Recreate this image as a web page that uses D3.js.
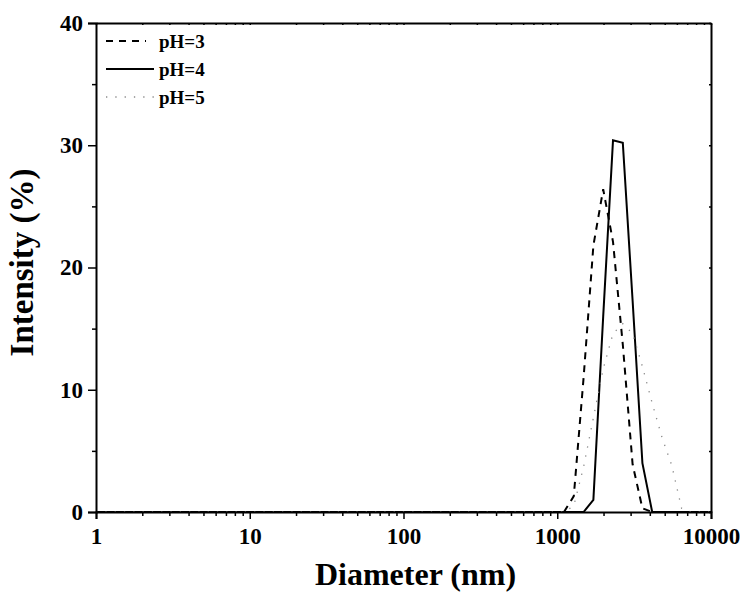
<!DOCTYPE html>
<html>
<head>
<meta charset="utf-8">
<script src="https://d3js.org/d3.v7.min.js"></script>
<style>
  body { margin: 0; background: #fff; }
  text { font-family: "Liberation Serif", "Times New Roman", serif; font-weight: bold; fill: #000; }
</style>
</head>
<body>
<svg id="chart" width="744" height="598"></svg>
<script>
// diameters (nm) of the size bins
const sizes = [1, 1106, 1281, 1484, 1718, 1990, 2305, 2669, 3091, 3580, 4145, 4801, 5560, 6439, 7456, 10000];
// intensity (%) for each pH
const pH3 = [0, 0, 1.3, 11.0, 21.8, 26.4, 22.1, 13.7, 3.9, 0.3, 0, 0, 0, 0, 0, 0];
const pH4 = [0, 0, 0, 0, 1.0, 16.0, 30.4, 30.2, 17.3, 4.0, 0, 0, 0, 0, 0, 0];
const pH5 = [0, 0, 0.5, 3.7, 7.7, 11.7, 14.6, 15.4, 14.6, 11.9, 8.9, 6.1, 3.8, 0.3, 0, 0];
const seriesNames = ['pH=3', 'pH=4', 'pH=5'];
const xTicks = [1, 10, 100, 1000, 10000];
const yTicks = [0, 10, 20, 30, 40];

const margin = {top: 23, right: 33, bottom: 86, left: 96};
const svg = d3.select('#chart');
const width = +svg.attr('width') - margin.left - margin.right;
const height = +svg.attr('height') - margin.top - margin.bottom;
const g = svg.append('g').attr('transform', `translate(${margin.left},${margin.top})`);

const x = d3.scaleLog().domain([1, 10000]).range([0, width]);
const y = d3.scaleLinear().domain([0, 40]).range([height, 0]);

const styles = [
  {stroke: '#000', width: 2, dash: '7,6'},
  {stroke: '#000', width: 2, dash: null},
  {stroke: '#8a8a8a', width: 1.3, dash: '1.3,8'}
];

const line = d3.line().x(d => x(d[0])).y(d => y(d[1]));
[pH3, pH4, pH5].forEach((vals, i) => {
  g.append('path')
    .datum(sizes.map((s, j) => [s, vals[j]]))
    .attr('d', line)
    .attr('fill', 'none')
    .attr('stroke', styles[i].stroke)
    .attr('stroke-width', styles[i].width)
    .attr('stroke-dasharray', styles[i].dash);
});

// minor ticks
const xMinor = [];
for (let d = 1; d < 10000; d *= 10) for (let k = 2; k <= 9; k++) xMinor.push(d * k);
const yMinor = [5, 15, 25, 35];

// bottom axis
const xAxis = g.append('g').attr('transform', `translate(0,${height})`)
  .call(d3.axisBottom(x).tickValues(xTicks).tickFormat(d3.format('d')).tickSize(7).tickPadding(9));
g.append('g').attr('transform', `translate(0,${height})`)
  .call(d3.axisBottom(x).tickValues(xMinor).tickFormat('').tickSize(4))
  .call(a => a.select('.domain').remove());
// left axis
const yAxis = g.append('g')
  .call(d3.axisLeft(y).tickValues(yTicks).tickSize(8).tickPadding(5));
g.append('g')
  .call(d3.axisLeft(y).tickValues(yMinor).tickFormat('').tickSize(4))
  .call(a => a.select('.domain').remove());
// top and right mirror ticks
g.append('g')
  .call(d3.axisBottom(x).tickValues(xTicks.concat(xMinor)).tickFormat('').tickSize(2).tickSizeOuter(0));
g.append('g').attr('transform', `translate(${width},0)`)
  .call(d3.axisRight(y).tickValues(yTicks.concat(yMinor)).tickFormat('').tickSize(-2).tickSizeOuter(0));

svg.selectAll('.domain').attr('stroke-width', 2);
svg.selectAll('.tick line').attr('stroke-width', 1.5);
[xAxis, yAxis].forEach(a => a.selectAll('text')
  .attr('font-size', 23)
  .style('font-family', '"Liberation Serif", serif')
  .style('font-weight', 'bold'));

// axis titles
svg.append('text')
  .attr('x', margin.left + width / 2 + 12).attr('y', 585)
  .attr('text-anchor', 'middle').attr('font-size', 32)
  .text('Diameter (nm)');
svg.append('text')
  .attr('transform', `translate(33,${margin.top + height / 2 - 5}) rotate(-90)`)
  .attr('text-anchor', 'middle').attr('font-size', 33)
  .text('Intensity (%)');

// legend
const legend = g.append('g').attr('transform', 'translate(10,18)');
seriesNames.forEach((name, i) => {
  const row = legend.append('g').attr('transform', `translate(0,${i * 28})`);
  row.append('line')
    .attr('x1', 0).attr('x2', i === 0 ? 40 : 48)
    .attr('stroke', styles[i].stroke)
    .attr('stroke-width', styles[i].width)
    .attr('stroke-dasharray', styles[i].dash);
  row.append('text')
    .attr('x', 53).attr('y', 7)
    .attr('font-size', 19)
    .text(name);
});
</script>
</body>
</html>
